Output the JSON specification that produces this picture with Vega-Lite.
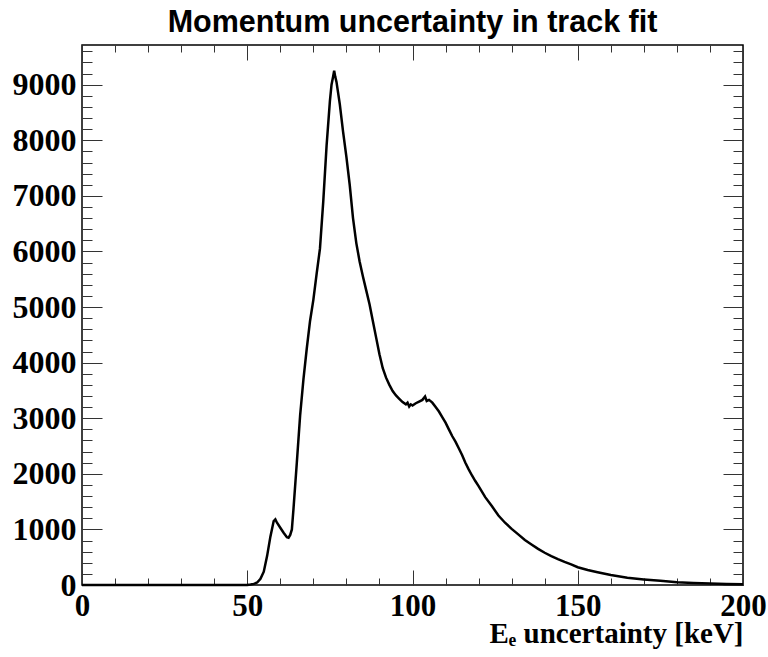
{
  "$schema": "https://vega.github.io/schema/vega-lite/v6.json",
  "width": 661,
  "height": 540,
  "autosize": {"type": "none"},
  "padding": {"left": 82, "top": 45, "right": 25, "bottom": 72},
  "background": "white",
  "config": {
    "view": {"stroke": "#000000", "strokeWidth": 1.5},
    "axis": {"grid": false, "tickColor": "#333333", "tickWidth": 1, "domain": false}
  },
  "title": {
    "text": "Momentum uncertainty in track fit",
    "font": "Liberation Sans",
    "fontSize": 30.5,
    "fontWeight": "bold",
    "color": "#000000",
    "anchor": "middle",
    "offset": 6
  },
  "data": {
    "values": [
      {"E": 0, "n": 0}, {"E": 20, "n": 0}, {"E": 40, "n": 0}, {"E": 48, "n": 0},
      {"E": 50, "n": 2}, {"E": 51, "n": 8}, {"E": 52, "n": 20}, {"E": 53, "n": 45},
      {"E": 54, "n": 110}, {"E": 55, "n": 240}, {"E": 56, "n": 520}, {"E": 57, "n": 870},
      {"E": 58, "n": 1150}, {"E": 58.5, "n": 1180}, {"E": 59, "n": 1120}, {"E": 60, "n": 1030},
      {"E": 61, "n": 940}, {"E": 62, "n": 860}, {"E": 62.5, "n": 850}, {"E": 63, "n": 900},
      {"E": 63.5, "n": 1000}, {"E": 64, "n": 1380}, {"E": 65, "n": 2200}, {"E": 66, "n": 3050},
      {"E": 67, "n": 3700}, {"E": 68, "n": 4250}, {"E": 69, "n": 4750}, {"E": 70, "n": 5130},
      {"E": 71, "n": 5600}, {"E": 72, "n": 6050}, {"E": 73, "n": 6900}, {"E": 74, "n": 7900},
      {"E": 75, "n": 8700}, {"E": 75.5, "n": 9000}, {"E": 76, "n": 9150}, {"E": 76.3, "n": 9250},
      {"E": 76.6, "n": 9150}, {"E": 77, "n": 9050}, {"E": 78, "n": 8650}, {"E": 79, "n": 8150},
      {"E": 80, "n": 7700}, {"E": 81, "n": 7200}, {"E": 82, "n": 6600}, {"E": 83, "n": 6150},
      {"E": 84, "n": 5820}, {"E": 85, "n": 5550}, {"E": 86, "n": 5300}, {"E": 87, "n": 5050},
      {"E": 88, "n": 4750}, {"E": 89, "n": 4450}, {"E": 90, "n": 4150}, {"E": 91, "n": 3900},
      {"E": 92, "n": 3730}, {"E": 93, "n": 3600}, {"E": 94, "n": 3490}, {"E": 95, "n": 3410},
      {"E": 96, "n": 3350}, {"E": 97, "n": 3290}, {"E": 98, "n": 3250}, {"E": 98.5, "n": 3280},
      {"E": 99, "n": 3210}, {"E": 99.5, "n": 3250}, {"E": 100, "n": 3230}, {"E": 101, "n": 3270},
      {"E": 102, "n": 3300}, {"E": 103, "n": 3330}, {"E": 103.8, "n": 3390}, {"E": 104.3, "n": 3310},
      {"E": 105, "n": 3330}, {"E": 106, "n": 3280}, {"E": 107, "n": 3200}, {"E": 108, "n": 3120},
      {"E": 109, "n": 3020}, {"E": 110, "n": 2920}, {"E": 111, "n": 2800}, {"E": 112, "n": 2680},
      {"E": 113, "n": 2580}, {"E": 114, "n": 2460}, {"E": 115, "n": 2340}, {"E": 116, "n": 2200},
      {"E": 117, "n": 2080}, {"E": 118, "n": 1970}, {"E": 119, "n": 1870}, {"E": 120, "n": 1780},
      {"E": 122, "n": 1580}, {"E": 124, "n": 1420}, {"E": 126, "n": 1250}, {"E": 128, "n": 1120},
      {"E": 130, "n": 1010}, {"E": 132, "n": 910}, {"E": 134, "n": 810}, {"E": 136, "n": 730},
      {"E": 138, "n": 650}, {"E": 140, "n": 580}, {"E": 142, "n": 520}, {"E": 144, "n": 465},
      {"E": 146, "n": 415}, {"E": 148, "n": 370}, {"E": 150, "n": 320}, {"E": 153, "n": 270},
      {"E": 156, "n": 230}, {"E": 160, "n": 180}, {"E": 165, "n": 130}, {"E": 170, "n": 100},
      {"E": 175, "n": 75}, {"E": 180, "n": 50}, {"E": 185, "n": 38}, {"E": 190, "n": 27},
      {"E": 195, "n": 18}, {"E": 200, "n": 12}
    ]
  },
  "resolve": {"axis": {"x": "independent", "y": "independent"}},
  "layer": [
    {
      "mark": {"type": "line", "opacity": 0},
      "encoding": {
        "x": {"field": "E", "type": "quantitative", "scale": {"domain": [0, 200], "nice": false},
          "axis": {"orient": "bottom", "values": [0, 50, 100, 150, 200], "tickSize": -15, "labels": false, "title": null}},
        "y": {"field": "n", "type": "quantitative", "scale": {"domain": [0, 9714], "nice": false},
          "axis": {"orient": "left", "values": [0, 1000, 2000, 3000, 4000, 5000, 6000, 7000, 8000, 9000], "tickSize": -20, "labels": false, "title": null}}
      }
    },
    {
      "mark": {"type": "line", "opacity": 0},
      "encoding": {
        "x": {"field": "E", "type": "quantitative", "scale": {"domain": [0, 200], "nice": false},
          "axis": {"orient": "bottom", "values": [0, 10, 20, 30, 40, 50, 60, 70, 80, 90, 100, 110, 120, 130, 140, 150, 160, 170, 180, 190, 200], "tickSize": -7, "labels": false, "title": null}},
        "y": {"field": "n", "type": "quantitative", "scale": {"domain": [0, 9714], "nice": false},
          "axis": {"orient": "left", "values": [0, 200, 400, 600, 800, 1000, 1200, 1400, 1600, 1800, 2000, 2200, 2400, 2600, 2800, 3000, 3200, 3400, 3600, 3800, 4000, 4200, 4400, 4600, 4800, 5000, 5200, 5400, 5600, 5800, 6000, 6200, 6400, 6600, 6800, 7000, 7200, 7400, 7600, 7800, 8000, 8200, 8400, 8600, 8800, 9000, 9200, 9400, 9600], "tickSize": -10, "labels": false, "title": null}}
      }
    },
    {
      "mark": {"type": "line", "opacity": 0},
      "encoding": {
        "x": {"field": "E", "type": "quantitative", "scale": {"domain": [0, 200], "nice": false},
          "axis": {"orient": "top", "values": [0, 50, 100, 150, 200], "tickSize": -15, "labels": false, "title": null}},
        "y": {"field": "n", "type": "quantitative", "scale": {"domain": [0, 9714], "nice": false},
          "axis": {"orient": "right", "values": [0, 1000, 2000, 3000, 4000, 5000, 6000, 7000, 8000, 9000], "tickSize": -20, "labels": false, "title": null}}
      }
    },
    {
      "mark": {"type": "line", "opacity": 0},
      "encoding": {
        "x": {"field": "E", "type": "quantitative", "scale": {"domain": [0, 200], "nice": false},
          "axis": {"orient": "top", "values": [0, 10, 20, 30, 40, 50, 60, 70, 80, 90, 100, 110, 120, 130, 140, 150, 160, 170, 180, 190, 200], "tickSize": -7, "labels": false, "title": null}},
        "y": {"field": "n", "type": "quantitative", "scale": {"domain": [0, 9714], "nice": false},
          "axis": {"orient": "right", "values": [0, 200, 400, 600, 800, 1000, 1200, 1400, 1600, 1800, 2000, 2200, 2400, 2600, 2800, 3000, 3200, 3400, 3600, 3800, 4000, 4200, 4400, 4600, 4800, 5000, 5200, 5400, 5600, 5800, 6000, 6200, 6400, 6600, 6800, 7000, 7200, 7400, 7600, 7800, 8000, 8200, 8400, 8600, 8800, 9000, 9200, 9400, 9600], "tickSize": -10, "labels": false, "title": null}}
      }
    },
    {
      "mark": {"type": "line", "color": "#000000", "strokeWidth": 2.5},
      "encoding": {
        "x": {"field": "E", "type": "quantitative", "scale": {"domain": [0, 200], "nice": false},
          "axis": {"orient": "bottom", "values": [0, 50, 100, 150, 200], "ticks": false, "format": "d",
            "labelFont": "Liberation Serif", "labelFontWeight": "bold", "labelFontSize": 31, "labelColor": "#000000",
            "labelPadding": 6, "labelFlush": false, "labelOverlap": false, "labelBound": false,
            "title": "Eₑ uncertainty [keV]", "titleFont": "Liberation Serif", "titleFontWeight": "bold", "titleFontSize": 29,
            "titleColor": "#000000", "titleAnchor": "end", "titleAlign": "right", "titleBaseline": "alphabetic", "titleY": 57}},
        "y": {"field": "n", "type": "quantitative", "scale": {"domain": [0, 9714], "nice": false},
          "axis": {"orient": "left", "values": [0, 1000, 2000, 3000, 4000, 5000, 6000, 7000, 8000, 9000], "ticks": false, "format": "d",
            "labelFont": "Liberation Serif", "labelFontWeight": "bold", "labelFontSize": 32, "labelColor": "#000000",
            "labelPadding": 6, "labelOverlap": false, "labelFlush": false, "labelBound": false, "title": null}}
      }
    }
  ]
}
